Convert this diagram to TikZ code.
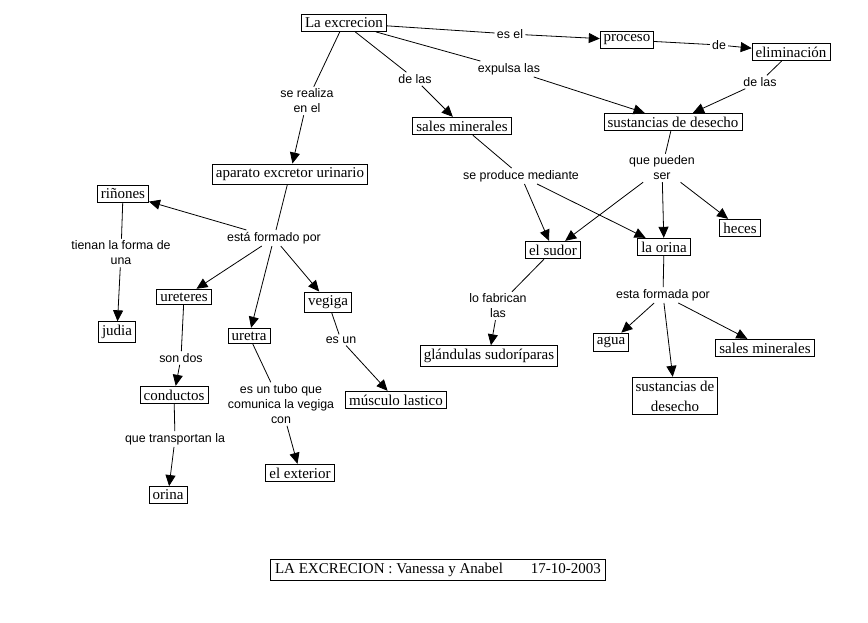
\documentclass[tikz,border=0pt]{standalone}
\usepackage{fontspec}
\setmainfont{Liberation Serif}
\newfontfamily\etiq{Liberation Sans}
\usetikzlibrary{arrows.meta}

\begin{document}
\begin{tikzpicture}[x=1pt,y=-1pt,
  concepto/.style={draw,line width=0.8pt,inner sep=3.5pt,font=\fontsize{15}{20}\selectfont,align=center},
  enlace/.style={inner sep=2pt,font=\etiq\fontsize{12.4}{15}\selectfont,align=center},
  linea/.style={line width=0.8pt},
  flecha/.style={line width=0.8pt,-{Triangle[length=11pt,width=10pt]}}]
\useasboundingbox (0,0) rectangle (868,623);

% conceptos
\node[concepto] (excrecion) at (344,23) {La excrecion};
\node[concepto] (proceso) at (627,40) {proceso};
\node[concepto] (eliminacion) at (791,52) {eliminación};
\node[concepto] (sales) at (462,126) {sales minerales};
\node[concepto] (sustancias) at (673,122) {sustancias de desecho};
\node[concepto] (aparato) at (290,174) {aparato excretor urinario};
\node[concepto] (rinones) at (123,194) {riñones};
\node[concepto] (sudor) at (553,250) {el sudor};
\node[concepto] (orina) at (664,247) {la orina};
\node[concepto] (heces) at (740,228) {heces};
\node[concepto] (ureteres) at (184,297) {ureteres};
\node[concepto] (vegiga) at (328,302) {vegiga};
\node[concepto] (judia) at (117,332) {judia};
\node[concepto] (uretra) at (249,336) {uretra};
\node[concepto] (agua) at (611,342) {agua};
\node[concepto] (salesdos) at (765,348) {sales minerales};
\node[concepto] (glandulas) at (489,356) {glándulas sudoríparas};
\node[concepto] (sustanciasdos) at (675,396) {sustancias de\\desecho};
\node[concepto] (conductos) at (174,395) {conductos};
\node[concepto] (musculo) at (396,400) {músculo lastico};
\node[concepto] (exterior) at (300,473) {el exterior};
\node[concepto] (orinados) at (168,495) {orina};

% palabras de enlace
\node[enlace] (esel) at (510,34) {es el};
\node[enlace] (de) at (719,45) {de};
\node[enlace] (expulsa) at (509,69) {expulsa las};
\node[enlace] (delasa) at (415,79) {de las};
\node[enlace] (delasb) at (760,82) {de las};
\node[enlace] (realiza) at (307,101) {se realiza\\en el};
\node[enlace] (produce) at (521,176) {se produce mediante};
\node[enlace] (pueden) at (662,168) {que pueden\\ser};
\node[enlace] (formado) at (274,238) {está formado por};
\node[enlace] (forma) at (121,253) {tienan la forma de\\una};
\node[enlace] (fabrican) at (498,306) {lo fabrican\\las};
\node[enlace] (formada) at (663,295) {esta formada por};
\node[enlace] (esun) at (341,340) {es un};
\node[enlace] (sondos) at (181,358) {son dos};
\node[enlace] (tubo) at (281,404) {es un tubo que\\comunica la vegiga\\con};
\node[enlace] (transportan) at (175,439) {que transportan la};

% conexiones
\draw[linea] (excrecion) -- (esel);
\draw[flecha] (esel) -- (proceso);
\draw[linea] (proceso) -- (de);
\draw[flecha] (de) -- (eliminacion);
\draw[linea] (eliminacion) -- (delasb);
\draw[flecha] (delasb) -- (sustancias);
\draw[linea] (excrecion) -- (expulsa);
\draw[flecha] (expulsa) -- (sustancias);
\draw[linea] (excrecion) -- (delasa);
\draw[flecha] (delasa) -- (sales);
\draw[linea] (excrecion) -- (realiza);
\draw[flecha] (realiza) -- (aparato);

\draw[linea] (sales) -- (produce);
\draw[flecha] (produce) -- (sudor);
\draw[flecha] (produce) -- (orina);
\draw[linea] (sustancias) -- (pueden);
\draw[flecha] (pueden) -- (sudor);
\draw[flecha] (pueden) -- (orina);
\draw[flecha] (pueden) -- (heces);

\draw[linea] (aparato) -- (formado);
\draw[flecha] (formado) -- (rinones);
\draw[flecha] (formado) -- (ureteres);
\draw[flecha] (formado) -- (uretra);
\draw[flecha] (formado) -- (vegiga);
\draw[linea] (rinones) -- (forma);
\draw[flecha] (forma) -- (judia);
\draw[linea] (ureteres) -- (sondos);
\draw[flecha] (sondos) -- (conductos);
\draw[linea] (conductos) -- (transportan);
\draw[flecha] (transportan) -- (orinados);
\draw[linea] (uretra) -- (tubo);
\draw[flecha] (tubo) -- (exterior);
\draw[linea] (vegiga) -- (esun);
\draw[flecha] (esun) -- (musculo);

\draw[linea] (sudor) -- (fabrican);
\draw[flecha] (fabrican) -- (glandulas);
\draw[linea] (orina) -- (formada);
\draw[flecha] (formada) -- (agua);
\draw[flecha] (formada) -- (sustanciasdos);
\draw[flecha] (formada) -- (salesdos);

% pie
\node[concepto,inner xsep=4.5pt] (pie) at (438,570) {LA EXCRECION : Vanessa y Anabel\hspace{28pt}17-10-2003};
\end{tikzpicture}
\end{document}
